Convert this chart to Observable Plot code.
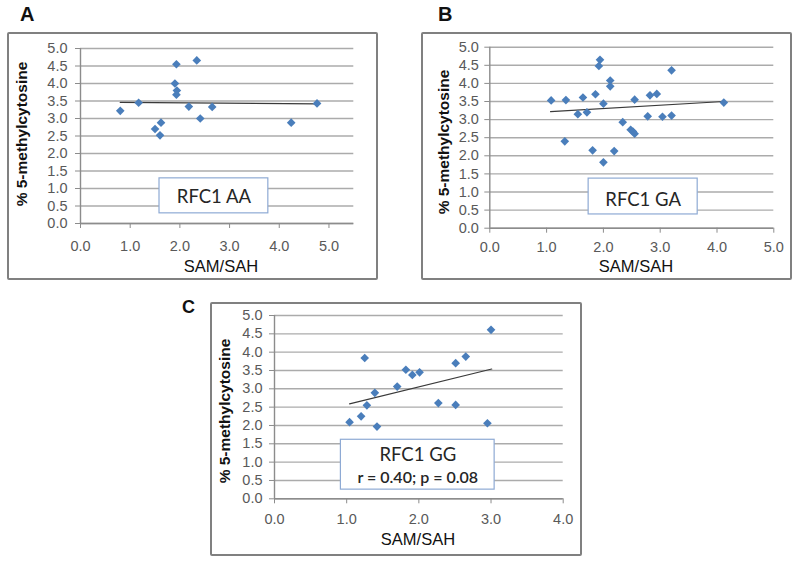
<!DOCTYPE html>
<html>
<head>
<meta charset="utf-8">
<script src="https://cdn.jsdelivr.net/npm/d3@7"></script>
<script src="https://cdn.jsdelivr.net/npm/@observablehq/plot@0.6"></script>
<style>
  html, body { margin: 0; padding: 0; background: #fff; }
  body { width: 800px; height: 564px; position: relative; overflow: hidden; font-family: "Liberation Sans", Arial, sans-serif; }
  .frame { position: absolute; border: 2px solid #808080; border-radius: 2px; background: #fff; box-sizing: content-box; }
  .frame svg { display: block; }
  .letter { position: absolute; font-weight: bold; line-height: 1; color: #111; }
  .xt, .yt { position: absolute; line-height: 1; color: #111; white-space: nowrap; }
  .xt { font-size: 16.5px; transform: translate(-50%, -50%); }
  .yt { font-size: 15.5px; font-weight: bold; transform: translate(-50%, -50%) rotate(-90deg); }
</style>
</head>
<body>
<script>
// ---------- data ----------
const panelLetters = ["A", "B", "C"];
const genotypeLabels = ["RFC1 AA", "RFC1 GA", "RFC1 GG"];
const statLabel = "r = 0.40; p = 0.08";
const xTitle = "SAM/SAH";
const yTitle = "% 5-methylcytosine";
const yTickValues = [0, 0.5, 1, 1.5, 2, 2.5, 3, 3.5, 4, 4.5, 5];
const xTicksAB = [0, 1, 2, 3, 4, 5];
const xTicksC = [0, 1, 2, 3, 4];

const aX = [0.80, 1.17, 1.50, 1.62, 1.60, 1.90, 1.93, 1.94, 1.93, 2.18, 2.34, 2.41, 2.65, 4.24, 4.76];
const aY = [3.22, 3.45, 2.70, 2.88, 2.52, 4.00, 4.55, 3.80, 3.68, 3.34, 4.66, 3.00, 3.33, 2.88, 3.43];

const bX = [1.08, 1.34, 1.32, 1.55, 1.64, 1.71, 1.86, 1.81, 1.94, 1.92, 2.00, 2.00, 2.12, 2.12, 2.19, 2.34, 2.48, 2.52, 2.55, 2.55, 2.78, 2.82, 2.94, 3.04, 3.20, 3.20, 4.12];
const bY = [3.53, 3.54, 2.40, 3.15, 3.61, 3.20, 3.70, 2.15, 4.65, 4.48, 3.44, 1.82, 4.08, 3.92, 2.13, 2.93, 2.72, 2.67, 2.61, 3.55, 3.09, 3.67, 3.71, 3.08, 4.36, 3.11, 3.47];

const cX = [1.04, 1.20, 1.25, 1.28, 1.39, 1.42, 1.70, 1.82, 1.91, 2.01, 2.27, 2.51, 2.51, 2.65, 2.95, 3.00];
const cY = [2.09, 2.25, 3.84, 2.55, 2.89, 1.97, 3.06, 3.52, 3.38, 3.45, 2.61, 3.70, 2.56, 3.88, 2.06, 4.61];

// linear trend lines (end points as drawn)
const trendAX = [0.80, 4.76], trendAY = [3.46, 3.42];
const trendBX = [1.07, 4.12], trendBY = [3.22, 3.50];
const trendCX = [1.04, 3.01], trendCY = [2.59, 3.54];

// ---------- layout ----------
const zip = (xs, ys) => xs.map((x, i) => ({x, y: ys[i]}));
const fmt = d3.format(".1f");

const panels = [
  {letter: panelLetters[0], letterPos: [20, 4, 20],
   frame: {left: 7, top: 32, w: 367, h: 244},
   m: {l: 71, r: 22.7, t: 14, b: 55}, xMax: 5.5, xTicks: xTicksAB,
   yPad: 8, xPad: 12,
   pts: zip(aX, aY), trend: zip(trendAX, trendAY),
   box: {x1: 1.59, x2: 3.78, y1: 0.29, y2: 1.29},
   lines: [{text: genotypeLabels[0], y: 0.76, size: 18.5, weight: 400}],
   xT: [221, 266], yT: [21.5, 134]},
  {letter: panelLetters[1], letterPos: [438, 4, 20],
   frame: {left: 421, top: 32, w: 367, h: 244},
   m: {l: 66.3, r: 16.7, t: 12.7, b: 50.3}, xMax: 5, xTicks: xTicksAB,
   yPad: 6, xPad: 9,
   pts: zip(bX, bY), trend: zip(trendBX, trendBY),
   box: {x1: 1.74, x2: 3.66, y1: 0.38, y2: 1.37},
   lines: [{text: genotypeLabels[1], y: 0.78, size: 18.5, weight: 400}],
   xT: [636, 266], yT: [443.5, 142]},
  {letter: panelLetters[2], letterPos: [182, 298, 18],
   frame: {left: 210, top: 302, w: 368, h: 250},
   m: {l: 62, r: 17.3, t: 11, b: 55.7}, xMax: 4, xTicks: xTicksC,
   yPad: 7, xPad: 10,
   pts: zip(cX, cY), trend: zip(trendCX, trendCY),
   box: {x1: 0.92, x2: 3.05, y1: 0.25, y2: 1.61},
   lines: [{text: genotypeLabels[2], y: 1.19, size: 18.5, weight: 400},
           {text: statLabel, y: 0.58, size: 16, weight: 600}],
   xT: [418, 539], yT: [225, 411]}
];

for (const p of panels) {
  const frame = document.createElement("div");
  frame.className = "frame";
  Object.assign(frame.style, {left: p.frame.left + "px", top: p.frame.top + "px", width: p.frame.w + "px", height: p.frame.h + "px"});

  const cx = (p.box.x1 + p.box.x2) / 2;
  const chart = Plot.plot({
    width: p.frame.w,
    height: p.frame.h,
    marginLeft: p.m.l, marginRight: p.m.r, marginTop: p.m.t, marginBottom: p.m.b,
    style: {background: "white", fontFamily: "'Liberation Sans', Arial, sans-serif", fontSize: "14.5px", color: "#595959", overflow: "visible"},
    x: {domain: [0, p.xMax]},
    y: {domain: [0, 5]},
    marks: [
      Plot.ruleY(yTickValues, {stroke: "#ababab", strokeWidth: 1.4}),
      Plot.ruleY([0], {stroke: "#8c8c8c", strokeWidth: 1.4}),
      Plot.ruleX([0], {stroke: "#8c8c8c", strokeWidth: 1.4}),
      Plot.axisY({ticks: yTickValues, tickFormat: fmt, tickSize: 5, tickPadding: p.yPad, label: null, stroke: "#8c8c8c", fill: "#595959"}),
      Plot.axisX({ticks: p.xTicks, tickFormat: fmt, tickSize: 5, tickPadding: p.xPad, label: null, stroke: "#8c8c8c", fill: "#595959"}),
      Plot.line(p.trend, {x: "x", y: "y", stroke: "#3a3a3a", strokeWidth: 1.2}),
      Plot.dot(p.pts, {x: "x", y: "y", symbol: "diamond2", r: 3.9, fill: "#4A7EBB", stroke: "none"}),
      Plot.rect([p.box], {x1: "x1", x2: "x2", y1: "y1", y2: "y2", fill: "white", stroke: "#8eaad4", strokeWidth: 1.2}),
      ...p.lines.map(l => Plot.text([l], {x: () => cx, y: "y", text: "text", fontFamily: "Lato, 'Open Sans', sans-serif", fontSize: l.size, fontWeight: l.weight, fill: "#262626", textAnchor: "middle"}))
    ]
  });
  frame.appendChild(chart);
  document.body.appendChild(frame);

  const letter = document.createElement("div");
  letter.className = "letter";
  letter.textContent = p.letter;
  Object.assign(letter.style, {left: p.letterPos[0] + "px", top: p.letterPos[1] + "px", fontSize: p.letterPos[2] + "px"});
  document.body.appendChild(letter);

  const xt = document.createElement("div");
  xt.className = "xt";
  xt.textContent = xTitle;
  Object.assign(xt.style, {left: p.xT[0] + "px", top: p.xT[1] + "px"});
  document.body.appendChild(xt);

  const yt = document.createElement("div");
  yt.className = "yt";
  yt.textContent = yTitle;
  Object.assign(yt.style, {left: p.yT[0] + "px", top: p.yT[1] + "px"});
  document.body.appendChild(yt);
}
</script>
</body>
</html>
